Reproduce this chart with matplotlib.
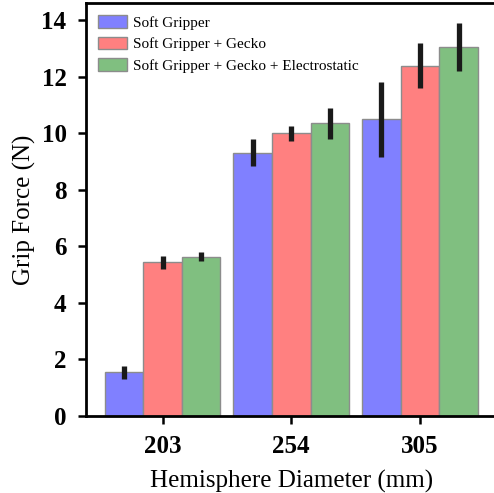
import matplotlib
matplotlib.use('Agg')
import matplotlib.pyplot as plt
import numpy as np

# Datos
diametros = ['203', '254', '305']
series = ['Soft Gripper', 'Soft Gripper + Gecko', 'Soft Gripper + Gecko + Electrostatic']
fuerza_soft = [1.54, 9.31, 10.50]
fuerza_gecko = [5.44, 10.00, 12.40]
fuerza_electro = [5.64, 10.36, 13.06]
err_soft = [0.22, 0.48, 1.33]
err_gecko = [0.23, 0.27, 0.79]
err_electro = [0.17, 0.54, 0.86]

plt.rcParams['font.family'] = ['Liberation Serif', 'DejaVu Serif']

fig = plt.figure(figsize=(4.94, 4.93), dpi=100)
ax = fig.add_axes([86 / 494, (493 - 416) / 493, 410.5 / 494, 413 / 493])

x = np.arange(len(diametros))
ancho = 0.3
colores = ['#8080ff', '#ff8080', '#80bf80']
valores = [fuerza_soft, fuerza_gecko, fuerza_electro]
errores = [err_soft, err_gecko, err_electro]

for i in range(3):
    ax.bar(x + (i - 1) * ancho, valores[i], ancho, color=colores[i],
           edgecolor='#8c8c8c', linewidth=1.0, label=series[i])
    ax.errorbar(x + (i - 1) * ancho, valores[i], yerr=errores[i], fmt='none',
                ecolor='#1a1a1a', elinewidth=3.8, capsize=0)

ax.set_xticks(x)
ax.set_xticklabels(diametros)
ax.set_yticks(range(0, 15, 2))
for lab in ax.get_xticklabels() + ax.get_yticklabels():
    lab.set_fontweight('bold')
    lab.set_fontsize(18)
ax.tick_params(width=1.8, length=6, pad=8)
for s in ax.spines.values():
    s.set_linewidth(2)

ax.set_xlabel('Hemisphere Diameter (mm)', fontsize=18, labelpad=8)
ax.set_ylabel('Grip Force (N)', fontsize=18, labelpad=4)
ax.legend(loc='upper left', fontsize=11, frameon=False, handlelength=1.9,
          handleheight=0.9, borderaxespad=0.4, labelspacing=0.45, handletextpad=0.4)

fig.savefig('out.png', dpi=100)
